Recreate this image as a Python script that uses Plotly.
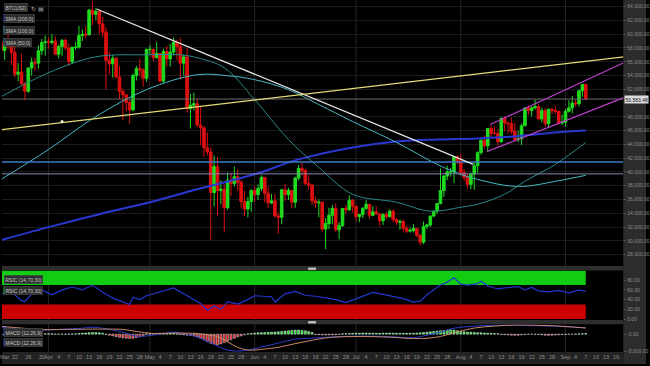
import plotly.graph_objects as go
import pandas as pd

# ---------------- data ----------------
START = "2021-03-18"
FIRST_OPEN = 58900
CLOSE = [
    57650, 58350, 58300, 57350, 54200, 54500, 52800, 51700, 55100, 55900, 55800, 57600, 58800, 58900,
    58800, 59000, 57100, 58200, 59100, 58000, 56000, 58100, 58100, 59800, 60000, 59900, 63500, 62900, 63300,
    61500, 60300, 56200, 55700, 56500, 53800, 51700, 51200, 50100, 49000, 54000, 55000, 54800, 53600, 57800,
    57800, 56600, 57200, 53200, 57500, 56400, 57400, 58800, 58200, 55800, 56700, 49200, 49700, 49900, 46800,
    46400, 43500, 42900, 37000, 40800, 37300, 37500, 34800, 38800, 38300, 39300, 38500, 35700, 34600, 35700, 37300,
    36700, 37600, 39200, 36900, 35500, 35800, 33600, 33400, 37400, 36700, 37300, 35600, 39100, 40500, 40200,
    38300, 38100, 35800, 35500, 35600, 31700, 32500, 33700, 34700, 31600, 32200, 34700, 34500, 35900, 35000,
    33500, 33800, 34700, 35300, 33700, 34200, 33900, 32900, 33800, 33500, 34300, 33100, 32700, 32800, 31800,
    31400, 31500, 31800, 30800, 29800, 32100, 32300, 33600, 34300, 35400, 37300, 39400, 40000, 40000, 42200, 41600,
    39900, 39200, 38200, 39700, 40900, 42800, 44600, 43800, 46300, 45600, 45600, 44400, 47800, 47100, 47000,
    45900, 44700, 44800, 46700, 49300, 48900, 49300, 49500, 47700, 48900, 47000, 49100, 48900, 48800, 47100, 47200,
    48800, 49300, 50000, 49900, 51800, 52700, 50583.48,
]
HIGH = [
    60000, 59400, 59900, 58600, 58400, 55800, 57200, 53100, 55100, 56600, 56600, 58400, 59300, 59800,
    59500, 60000, 59700, 58500, 59300, 59400, 58600, 58200, 58900, 61200, 60700, 61200, 63700, 64800, 63800,
    63500, 62500, 61000, 57500, 57000, 56700, 55400, 52100, 51200, 50500, 54300, 55400, 56400, 55100, 57900,
    58400, 57900, 58900, 57200, 57900, 58300, 58600, 59500, 59200, 59500, 57000, 58000, 51300, 51500, 50600,
    49500, 46600, 45700, 43500, 42400, 42200, 38800, 38200, 39900, 39800, 40800, 40400, 38800, 37300, 36400, 37500,
    37900, 38200, 39500, 39300, 37900, 36800, 36800, 34100, 37500, 38300, 37700, 37400, 39300, 41000, 41300,
    40500, 39500, 38200, 36400, 36000, 35700, 33300, 34800, 35200, 35400, 32700, 34700, 35200, 36600, 36000,
    35000, 33900, 34900, 35900, 35300, 35000, 35000, 33900, 34000, 34200, 34600, 34600, 33300, 33100, 33100,
    32200, 31900, 32400, 31800, 31000, 32800, 32500, 33600, 34400, 35400, 40500, 39500, 40900, 40600, 42300, 42400,
    42600, 40400, 39700, 39900, 41400, 43000, 44700, 45300, 46400, 46700, 46700, 46200, 47900, 48100, 47300,
    47900, 47100, 46000, 47000, 49300, 49700, 49500, 50500, 49800, 49300, 49300, 49200, 49300, 49600, 48900, 48300,
    49100, 50400, 51000, 50500, 51900, 52800, 52900,
]
LOW = [
    57000, 56300, 57900, 55500, 53700, 53200, 52600, 50400, 51500, 54000, 54700, 55000, 57000, 56900,
    57900, 58500, 57000, 56500, 56800, 57700, 55400, 55700, 57700, 57900, 59000, 59400, 59900, 61300, 62100,
    60000, 59600, 52000, 54200, 53700, 53600, 50600, 47500, 48800, 47000, 48800, 53300, 53900, 52400, 53100,
    57000, 56100, 56500, 53000, 52900, 55300, 55300, 56900, 56300, 53400, 54000, 48600, 46300, 48900, 46600,
    43900, 42200, 42400, 30100, 35000, 33600, 35300, 31200, 34500, 36500, 37900, 37200, 34800, 33600, 33400, 34200,
    35700, 35900, 37200, 35600, 34800, 35300, 33400, 31000, 32400, 35800, 35900, 34700, 34800, 38800, 39500,
    38100, 37400, 35200, 34800, 33400, 31300, 28800, 31700, 32400, 31300, 30200, 32000, 33900, 34300, 34100,
    32800, 32700, 33300, 34500, 33200, 33600, 33800, 32100, 32300, 33100, 33400, 32700, 32300, 31600, 31200,
    31100, 31200, 31200, 30500, 29300, 29500, 31700, 32000, 33400, 33900, 35300, 36400, 38800, 39300, 38400, 41100,
    39500, 38700, 37600, 37500, 37400, 39900, 42500, 43400, 42900, 45000, 45400, 43800, 44200, 45900, 45600,
    45500, 44400, 44300, 43900, 46700, 48300, 48100, 49100, 47600, 47200, 46500, 46500, 48400, 48400, 46900, 46800,
    46600, 48600, 48500, 49500, 49500, 50900, 50400,
]

SMA_DAY = [0, 14, 28, 43, 53, 58, 66, 75, 85, 94, 104, 117, 127, 136, 141, 149, 155, 164, 173]
SMA50 = [50930, 54410, 56720, 57010, 57010, 56580, 55130, 50500, 44710, 40660, 36750, 35600, 34290,
         34870, 35310, 36750, 38640, 41090, 44280]
SMA100_DAY = [0, 14, 28, 43, 58, 67, 75, 85, 94, 104, 117, 129, 136, 141, 149, 155, 164, 173]
SMA100 = [38920, 43260, 48040, 51950, 54120, 53970, 53400, 51950, 49780, 47320, 44280, 41100, 39650,
          38920, 38060, 37910, 38630, 39500]
SMA200_DAY = [0, 14, 29, 44, 58, 75, 88, 104, 117, 129, 141, 152, 164, 173]
SMA200 = [30100, 31980, 33860, 35600, 37480, 39650, 41820, 43550, 44420, 44710, 44860, 45150, 45720, 46010]

RSI_DAY = [0, 3, 6, 7, 9, 12, 15, 18, 21, 24, 27, 30, 33, 36, 38, 39, 41, 43, 45, 48, 51, 54, 57, 59, 61,
           63, 65, 67, 70, 72, 75, 78, 80, 81, 84, 87, 90, 93, 96, 99, 102, 104, 107, 110, 113, 116, 119,
           122, 124, 126, 128, 130, 132, 134, 136, 138, 141, 142, 144, 147, 150, 153, 155, 157, 159, 162,
           165, 168, 171, 173]
RSI = [52, 56, 38, 36, 52, 60, 50, 60, 66, 60, 70, 55, 43, 36, 30, 45, 40, 48, 52, 58, 64, 52, 40, 32, 18,
       27, 20, 36, 31, 37, 48, 47, 46, 35, 52, 57, 49, 47, 44, 40, 34, 39, 47, 55, 51, 47, 42,
       35, 37, 50, 60, 70, 76, 85, 72, 70, 73, 78, 68, 62, 65, 67, 60, 65, 58, 56,
       59, 54, 60, 57]
RSI_HIGH, RSI_LOW = 70, 30

MACD_DAY = [0, 6, 12, 18, 24, 27, 30, 36, 40, 45, 51, 55, 58, 61, 64, 67, 70, 73, 77, 82, 87, 92, 97,
            105, 115, 122, 126, 130, 134, 140, 146, 152, 158, 164, 170, 173]
MACD = [2060, 1470, 1180, 1470, 1760, 2060, 1760, 590, -590, -300, 590, 0, -880, -2060, -3500, -4700,
        -5000, -4700, -3800, -2650, -1470, -1180, -880, -590, -730, -1030, -300, 590, 1760, 2350, 2650,
        2650, 2500, 2350, 2060, 1910]
SIGNAL = [2300, 1800, 1350, 1400, 1450, 1500, 1500, 1400, 800, 200, 300, 300, 200, -200, -700, -2300,
          -3900, -4700, -4500, -3900, -2800, -1800, -1000, -700, -900, -1300, -1200, -700, 400, 1800,
          2400, 2700, 2650, 2450, 2050, 1800]
HIST = ([-300, -350, -400, -380, -420, -450, -400]
        + [-300, -200, -150, -100, -50, 0]
        + [100, 150, 120]
        + [50, 60, 40, 20, 60, 80, 100]
        + [200, 300, 350, 450, 500, 480, 400, 300]
        + [-100, -300, -500, -700, -900, -1100, -1200, -1250, -1200, -1000, -800, -500]
        + [100, 150, 200, 250, 300, 300, 280, 250, 200, 150]
        + [-100, -200, -300, -400, -500]
        + [-800, -1200, -1700, -2200, -2700, -3000, -3100, -2900, -2500]
        + [-2000, -1600, -1200, -800, -500, -200]
        + [100, 200, 300, 400, 450, 500, 550, 600, 650, 700, 800, 900, 1000, 1100, 1200, 1200, 1100, 1000, 800, 500]
        + [-100, -150, -200, -250, -200, -200, -150, -100]
        + [100, 150, 200, 250, 300, 300, 350, 350, 300, 300, 250, 250, 300, 300, 350, 300, 300, 250, 250, 250,
           300, 300, 350, 400, 500, 600, 700]
        + [800, 900, 1000, 1100, 1200, 1300]
        + [1200, 1000, 800, 700, 600, 550, 500, 450]
        + [400, 350, 300, 250, 200, 150]
        + [-100, -150, -200, -300, -350, -300, -200, -100, -50, 0, -50, -100, -200, -300, -350]
        + [-300, -250, -200, -150, -100, -50, 0, 50, 100, 150, 200])

# drawn trendlines: (date, price) end points
WHITE_LINE = [("2021-04-15 05:00", 63670), ("2021-08-04 17:00", 41090)]
YELLOW_LINE = [("2021-03-17", 46070), ("2021-09-19", 56750)]
YELLOW_DOT = ("2021-04-05", 47310)
CHAN_UP = [("2021-08-09 17:00", 46880), ("2021-09-18 06:00", 55850)]
CHAN_LO = [("2021-08-08 20:00", 42970), ("2021-09-18 06:00", 50790)]
HLINE_BLUE = 41450
HLINE_LAV = 39720
LAST_PRICE = 50583.48

PRICE_TICKS = [28000, 30000, 32000, 34000, 36000, 38000, 40000, 42000, 44000, 46000, 48000,
               52000, 54000, 56000, 58000, 60000, 62000, 64000]
X_RANGE = ["2021-03-18 05:13", "2021-09-18 02:06"]
MONTH_STARTS = ["2021-04-01", "2021-05-01", "2021-06-01", "2021-07-01", "2021-08-01", "2021-09-01"]
TICK_DATES = ["2021-03-19", "2021-03-22", "2021-03-26", "2021-03-30", "2021-04-01"] + \
    [f"2021-04-{d:02d}" for d in (4, 7, 10, 13, 16, 19, 22, 25, 28)] + ["2021-05-01"] + \
    [f"2021-05-{d:02d}" for d in (4, 7, 10, 13, 16, 19, 22, 25, 28)] + ["2021-06-01"] + \
    [f"2021-06-{d:02d}" for d in (4, 7, 10, 13, 16, 19, 22, 25, 28)] + ["2021-07-01"] + \
    [f"2021-07-{d:02d}" for d in (4, 7, 10, 13, 16, 19, 22, 25, 28)] + ["2021-08-01"] + \
    [f"2021-08-{d:02d}" for d in (4, 7, 10, 13, 16, 19, 22, 25, 28)] + ["2021-09-01"] + \
    [f"2021-09-{d:02d}" for d in (4, 7, 10, 13, 16)]
TICK_TEXT = ["Mar", "22", "26", "30", "Apr"] + ["4", "7", "10", "13", "16", "19", "22", "25", "28"] + ["May"] + \
    ["4", "7", "10", "13", "16", "19", "22", "25", "28"] + ["Jun"] + \
    ["4", "7", "10", "13", "16", "19", "22", "25", "28"] + ["Jul"] + \
    ["4", "7", "10", "13", "16", "19", "22", "25", "28"] + ["Aug"] + \
    ["4", "7", "10", "13", "16", "19", "22", "25", "28"] + ["Sep"] + ["4", "7", "10", "13", "16"]

# ---------------- figure ----------------
dates = pd.date_range(START, periods=len(CLOSE), freq="D")
OPEN = [FIRST_OPEN] + CLOSE[:-1]   # 24/7 market: each open is the prior close

GREEN = "#1fdc1f"
RED = "#dd1010"
FONT = "Liberation Sans, Arial, sans-serif"
TXT = "#8c8c8c"

W, H = 650, 366
XR = 627 / W
def py(px):
    return 1 - px / H

fig = go.Figure()

fig.add_trace(go.Scatter(x=dates[SMA200_DAY], y=SMA200, mode="lines", line=dict(color="#2a38d0", width=2, shape="spline"), yaxis="y"))
fig.add_trace(go.Scatter(x=dates[SMA100_DAY], y=SMA100, mode="lines", line=dict(color="#45b8c4", width=1, shape="spline"), yaxis="y"))
fig.add_trace(go.Scatter(x=dates[SMA_DAY], y=SMA50, mode="lines", line=dict(color="#2a8888", width=1, shape="spline"), yaxis="y"))

for price, col, wd in [(HLINE_BLUE, "#3c7cc4", 1.6), (HLINE_LAV, "#8a8ab8", 1), (LAST_PRICE, "#6e6e6e", 1)]:
    fig.add_trace(go.Scatter(x=[X_RANGE[0], X_RANGE[1]], y=[price, price], mode="lines",
                             line=dict(color=col, width=wd), yaxis="y"))

fig.add_trace(go.Candlestick(
    x=dates, open=OPEN, high=HIGH, low=LOW, close=CLOSE, yaxis="y",
    increasing=dict(line=dict(color=GREEN, width=1), fillcolor=GREEN),
    decreasing=dict(line=dict(color=RED, width=1), fillcolor=RED),
    whiskerwidth=0))

for pts, col in [(WHITE_LINE, "#e8e8e8"), (YELLOW_LINE, "#e4dc78"), (CHAN_UP, "#c040d0"), (CHAN_LO, "#c040d0")]:
    fig.add_trace(go.Scatter(x=[p[0] for p in pts], y=[p[1] for p in pts], mode="lines",
                             line=dict(color=col, width=1.2), yaxis="y"))
fig.add_trace(go.Scatter(x=[YELLOW_DOT[0]], y=[YELLOW_DOT[1]], mode="markers",
                         marker=dict(color="#f0f0d0", size=3), yaxis="y"))

# RSI
fig.add_trace(go.Scatter(x=dates[RSI_DAY], y=RSI, mode="lines", line=dict(color="#2436d0", width=1.2), yaxis="y2"))

# MACD
fig.add_trace(go.Bar(x=dates, y=HIST, marker_color=[GREEN if v >= 0 else RED for v in HIST],
                     width=0.6 * 86400000, yaxis="y3"))
fig.add_trace(go.Scatter(x=dates[MACD_DAY], y=MACD, mode="lines", line=dict(color="#2e3ac8", width=1, shape="spline"), yaxis="y3"))
fig.add_trace(go.Scatter(x=dates[MACD_DAY], y=SIGNAL, mode="lines", line=dict(color="#c88a6a", width=1, shape="spline"), yaxis="y3"))

shapes = [
    dict(type="rect", xref="paper", yref="paper", x0=XR, x1=1, y0=0, y1=1, fillcolor="#2c2c2c", line_width=0, layer="below"),
    dict(type="rect", xref="paper", yref="paper", x0=0, x1=XR, y0=0, y1=py(354), fillcolor="#232323", line_width=0, layer="below"),
    dict(type="rect", xref="paper", yref="paper", x0=0, x1=XR, y0=py(272), y1=py(267.5), fillcolor="#2e2e2e", line_width=0),
    dict(type="rect", xref="paper", yref="paper", x0=0, x1=XR, y0=py(326), y1=py(321.8), fillcolor="#2e2e2e", line_width=0),
    dict(type="rect", xref="paper", yref="paper", x0=309 / W, x1=317 / W, y0=py(271.5), y1=py(269), fillcolor="#b8b8b8", line_width=0),
    dict(type="rect", xref="paper", yref="paper", x0=309 / W, x1=317 / W, y0=py(325.3), y1=py(322.8), fillcolor="#b8b8b8", line_width=0),
    dict(type="rect", xref="x", yref="y2", x0=X_RANGE[0], x1=dates[-1], y0=RSI_HIGH, y1=100, fillcolor="#12cc12", line_width=0, layer="below"),
    dict(type="rect", xref="x", yref="y2", x0=X_RANGE[0], x1=dates[-1], y0=0, y1=RSI_LOW, fillcolor="#cc0000", line_width=0, layer="below"),
]
for m in MONTH_STARTS:
    shapes.append(dict(type="line", xref="x", yref="paper", x0=m, x1=m, y0=py(354), y1=1,
                       line=dict(color="#262626", width=1), layer="below"))

ann = []
def label(text, top, barcol=None):
    ann.append(dict(xref="paper", yref="paper", x=2.5 / W, y=py(top), xanchor="left", yanchor="top",
                    text=text, showarrow=False, font=dict(size=5, color="#c8c8c8", family=FONT),
                    bgcolor="#2e2e2e", bordercolor="#4a4a4a", borderwidth=0.5, borderpad=1))
    if barcol:
        shapes.append(dict(type="rect", xref="paper", yref="paper", x0=1.5 / W, x1=3 / W,
                           y0=py(top + 8), y1=py(top), fillcolor=barcol, line_width=0))

label("BTCUSD", 3)
ann.append(dict(xref="paper", yref="paper", x=27 / W, y=py(3), xanchor="left", yanchor="top", text="↻ ▤",
                showarrow=False, font=dict(size=6, color="#b0b0b0", family="DejaVu Sans")))
label("SMA (200,0)", 14, "#2a38d0")
label("SMA (100,0)", 26, "#45b8c4")
label("SMA (50,0)", 38, "#2a8888")
label("RSIC (14,70,30)", 276.5, "#12cc12")
label("RSIC (14,70,30)", 288, "#12cc12")
label("MACD (12,26,9)", 329.5, "#2e3ac8")
label("MACD (12,26,9)", 340, "#2e3ac8")
ann.append(dict(xref="paper", yref="y", x=628 / W, y=LAST_PRICE, xanchor="left", yanchor="middle",
                text=f"{LAST_PRICE:,.2f}", showarrow=False, font=dict(size=5, color="#111", family=FONT),
                bgcolor="#dcdcdc", borderpad=0.5))

axfont = dict(size=5, color=TXT, family=FONT)
fig.update_layout(
    width=W, height=H, margin=dict(l=0, r=0, t=0, b=0),
    paper_bgcolor="#000", plot_bgcolor="#000", showlegend=False, bargap=0,
    boxgap=0.15, boxgroupgap=0.1,
    shapes=shapes, annotations=ann, hovermode=False,
    xaxis=dict(type="date", domain=[0, XR], range=X_RANGE, anchor="y3", tickvals=TICK_DATES, ticktext=TICK_TEXT,
               tickangle=0, ticklabeloverflow="allow", tickfont=dict(size=5.5, color=TXT, family=FONT),
               showgrid=False, zeroline=False, showline=False, ticks="", rangeslider=dict(visible=False),
               fixedrange=True),
    yaxis=dict(domain=[py(267.5), 1], range=[26330, 64970], side="right", anchor="x", tickvals=PRICE_TICKS,
               tickformat=",.2f", tickfont=axfont, gridcolor="#1c1c1c", gridwidth=1, zeroline=False,
               ticks="outside", ticklen=2, tickcolor="#555", showline=False),
    yaxis2=dict(domain=[py(321.8), py(272)], range=[-2.04, 100], side="right", anchor="x",
                tickvals=[0, 20, 40, 60, 80], tickformat=".2f", tickfont=axfont, showgrid=False, zeroline=False,
                ticks="outside", ticklen=2, tickcolor="#555"),
    yaxis3=dict(domain=[py(354), py(326)], range=[-5294, 2941], side="right", anchor="x",
                tickvals=[0, -5000], ticktext=["-0.00", "-5,000.00"], tickfont=axfont, showgrid=False,
                zeroline=False, ticks="outside", ticklen=2, tickcolor="#555"),
)

fig.write_html("out.html", config={"displayModeBar": False, "staticPlot": True},
               post_script="document.body.style.margin='0px';document.body.style.overflow='hidden';")
